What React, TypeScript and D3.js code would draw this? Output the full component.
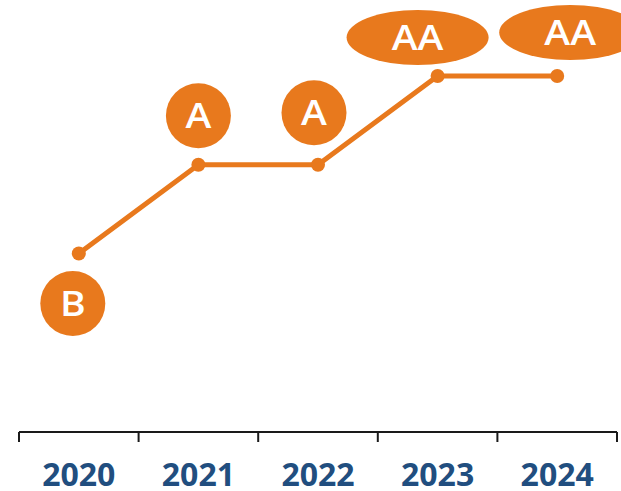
import React from "react";
import * as d3 from "d3";

const years = ["2020", "2021", "2022", "2023", "2024"];
const ratingLabels = ["B", "A", "A", "AA", "AA"];
const ratingLevels = [1, 2, 2, 3, 3];
// label bubble offsets relative to each point (layout)
const labelDx = [-6, 0, -4, -20, 13];
const labelDy = [50, -49, -52, -38.5, -43.5];

const W = 621;
const H = 491;
const ORANGE = "#E8791D";
const BLUE = "#214E7F";

export default function App() {
  const x = d3.scaleBand<string>().domain(years).range([19, 617]).padding(0);
  const y = d3.scaleLinear().domain([1, 3]).range([253.5, 76]);
  const axisY = 432;

  const pts = years.map((yr, i) => ({
    x: (x(yr) as number) + x.bandwidth() / 2,
    y: y(ratingLevels[i]),
    label: ratingLabels[i],
    dx: labelDx[i],
    dy: labelDy[i],
  }));

  const line = d3
    .line<{ x: number; y: number }>()
    .x((d) => d.x)
    .y((d) => d.y);

  const tickXs = [...years.map((yr) => x(yr) as number), x.range()[1]];

  return (
    <svg
      width={W}
      height={H}
      style={{ position: "absolute", left: 0, top: 0, background: "#fff" }}
    >
      <path d={line(pts) || ""} fill="none" stroke={ORANGE} strokeWidth={5} strokeLinejoin="round" />
      {pts.map((p, i) => (
        <circle key={"pt" + i} cx={p.x} cy={p.y} r={7} fill={ORANGE} />
      ))}
      {pts.map((p, i) => {
        const cx = p.x + p.dx;
        const cy = p.y + p.dy;
        const wide = p.label.length > 1;
        return (
          <g key={"lb" + i}>
            {wide ? (
              <ellipse cx={cx} cy={cy} rx={71} ry={27.5} fill={ORANGE} />
            ) : (
              <circle cx={cx} cy={cy} r={32.5} fill={ORANGE} />
            )}
            <g transform={`translate(${cx},${cy}) scale(1.15,1)`}>
              <text
                x={0}
                y={0}
                dy="0.36em"
                textAnchor="middle"
                fill="#fff"
                fontFamily="'Open Sans', sans-serif"
                fontWeight={600}
                fontSize={34}
              >
                {p.label}
              </text>
            </g>
          </g>
        );
      })}
      <line x1={x.range()[0]} x2={x.range()[1]} y1={axisY} y2={axisY} stroke="#1a1a1a" strokeWidth={2} />
      {tickXs.map((tx, i) => (
        <line key={"t" + i} x1={tx} x2={tx} y1={axisY} y2={axisY + 10} stroke="#1a1a1a" strokeWidth={2} />
      ))}
      {years.map((yr) => (
        <text
          key={yr}
          x={(x(yr) as number) + x.bandwidth() / 2}
          y={486}
          textAnchor="middle"
          fill={BLUE}
          fontFamily="'Open Sans', Lato, sans-serif"
          fontWeight={700}
          fontSize={32}
        >
          {yr}
        </text>
      ))}
    </svg>
  );
}
